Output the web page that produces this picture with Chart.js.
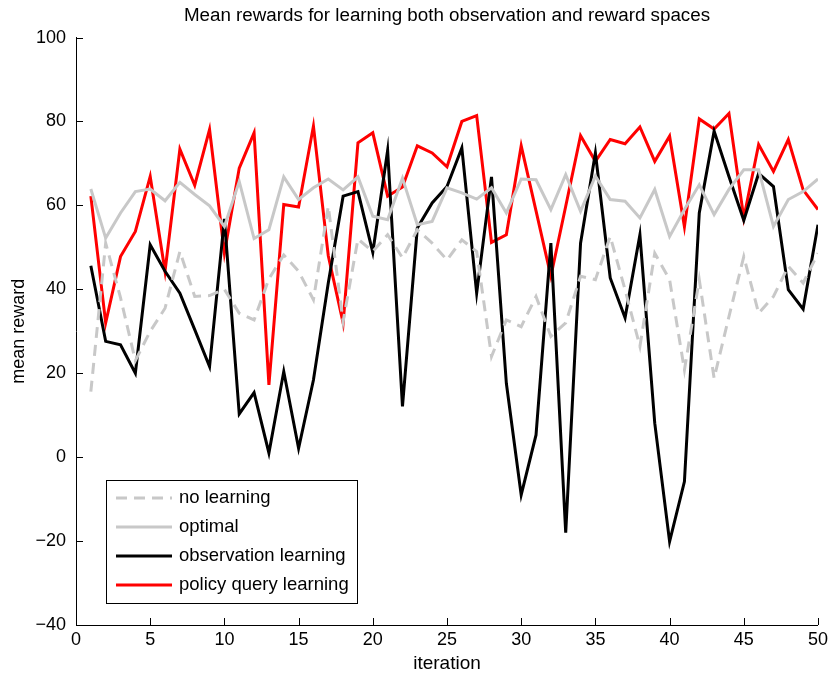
<!DOCTYPE html>
<html>
<head>
<meta charset="utf-8">
<script src="https://cdn.jsdelivr.net/npm/chart.js@4.4.0/dist/chart.umd.min.js"></script>
<style>
  html, body { margin: 0; padding: 0; background: #fff; }
  #wrap { width: 832px; height: 675px; }
</style>
</head>
<body>
<div id="wrap"><canvas id="myChart" width="832" height="675"></canvas></div>
<script>
// dados
var iteracoes = [];
for (var i = 1; i <= 50; i++) iteracoes.push(i);

var semAprendizado = [15.6, 51, 38, 23, 30, 35.5, 49, 38.3, 38.5, 40,
  34.3, 32.7, 42.5, 48.2, 44.3, 37.5, 59.8, 32.3, 52, 49,
  53, 47.5, 54.2, 51, 47, 51.8, 49, 24, 32.7, 31.1,
  38.3, 28.8, 32, 43.1, 42.3, 52.6, 39.9, 26.4, 48.6, 42.3,
  20.8, 42.3, 18.8, 33.5, 47.8, 34.3, 38.3, 45.5, 41.5, 48.6];

var otimo = [63.9, 52.2, 58.2, 63.3, 63.9, 61.1, 65.5, 62.6, 59.9, 55.0,
  65.7, 52.1, 54.2, 66.8, 61.4, 64.2, 66.3, 63.7, 66.8, 57.4,
  56.6, 66.5, 55.4, 56.2, 64.2, 63.0, 61.5, 64.2, 58.2, 66.3,
  66.1, 59.0, 67.3, 58.6, 67, 61.4, 61.0, 57.0, 63.8, 52.6,
  59.0, 64.9, 57.8, 63.8, 68.5, 68.5, 55.0, 61.4, 63.3, 66.3];

var observacao = [45.6, 27.6, 26.8, 20.0, 50.6, 44.3, 39.1, 30.4, 21.6, 56.8,
  10.3, 15.4, 1.0, 20.4, 2.1, 18.4, 41.5, 62.2, 63.3, 48.8,
  73.1, 12.1, 54.6, 60.6, 64.5, 73.7, 39.1, 66.8, 17.6, -9.0,
  5.3, 51.0, -18.0, 51.0, 72.5, 42.7, 33.2, 53.0, 8.1, -20.1,
  -5.8, 58.2, 77.7, 66.9, 56.4, 67.6, 64.5, 39.9, 35.3, 55.4];

var politica = [62.2, 32.0, 47.8, 53.8, 66.9, 44.3, 73.4, 64.8, 78.1, 48.6,
  68.9, 77.3, 17.2, 60.2, 59.6, 78.9, 48, 32.0, 74.9, 77.3,
  62.2, 64.4, 74.2, 72.5, 69.2, 80.0, 81.4, 51.2, 53.0, 74.2,
  58.7, 43.1, 59.8, 76.6, 70.5, 75.7, 74.7, 78.7, 70.5, 76.5,
  54.9, 80.6, 78.2, 81.9, 57.0, 74.5, 68.1, 75.7, 63.7, 59.0];

var rotulos = ['no learning', 'optimal', 'observation learning', 'policy query learning'];

function pontos(valores) {
  return valores.map(function (v, k) { return { x: iteracoes[k], y: v }; });
}

var fonte = '"Liberation Sans", Arial, Helvetica, sans-serif';
var cinza = '#c8c8c8';

// ticks para dentro, estilo MATLAB
var ticksInternos = {
  id: 'ticksInternos',
  afterDraw: function (chart) {
    var ctx = chart.ctx;
    var area = chart.chartArea;
    var sx = chart.scales.x, sy = chart.scales.y;
    ctx.save();
    ctx.strokeStyle = '#000';
    ctx.lineWidth = 1;
    ctx.beginPath();
    sy.ticks.forEach(function (t) {
      var y = Math.round(sy.getPixelForValue(t.value)) + 0.5;
      ctx.moveTo(area.left, y);
      ctx.lineTo(area.left + 7, y);
    });
    sx.ticks.forEach(function (t) {
      var x = Math.round(sx.getPixelForValue(t.value)) + 0.5;
      ctx.moveTo(x, area.bottom);
      ctx.lineTo(x, area.bottom - 7);
    });
    ctx.stroke();
    ctx.restore();
  }
};

// legenda dentro do gráfico
var legendaCaixa = {
  id: 'legendaCaixa',
  afterDraw: function (chart) {
    var ctx = chart.ctx;
    var x0 = 106, y0 = 480, w = 251, h = 123;
    ctx.save();
    ctx.fillStyle = '#fff';
    ctx.fillRect(x0, y0, w, h);
    ctx.strokeStyle = '#000';
    ctx.lineWidth = 1;
    ctx.strokeRect(x0 + 0.5, y0 + 0.5, w, h);
    chart.data.datasets.forEach(function (ds, k) {
      var y = y0 + 18 + k * 29;
      ctx.beginPath();
      ctx.strokeStyle = ds.borderColor;
      ctx.lineWidth = ds.borderWidth;
      ctx.setLineDash(ds.borderDash || []);
      ctx.moveTo(x0 + 10, y);
      ctx.lineTo(x0 + 66, y);
      ctx.stroke();
      ctx.setLineDash([]);
      ctx.fillStyle = '#000';
      ctx.font = '18.5px ' + fonte;
      ctx.textBaseline = 'middle';
      ctx.textAlign = 'left';
      ctx.fillText(ds.label, x0 + 73, y);
    });
    ctx.restore();
  }
};

var ctx = document.getElementById('myChart').getContext('2d');

var meuGrafico = new Chart(ctx, {
  type: 'line',
  data: {
    datasets: [
      { label: rotulos[0], data: pontos(semAprendizado), borderColor: cinza, borderWidth: 3, borderDash: [11, 7] },
      { label: rotulos[1], data: pontos(otimo), borderColor: cinza, borderWidth: 3 },
      { label: rotulos[2], data: pontos(observacao), borderColor: '#000000', borderWidth: 3 },
      { label: rotulos[3], data: pontos(politica), borderColor: '#ff0000', borderWidth: 3 }
    ]
  },
  options: {
    responsive: false,
    animation: false,
    events: [],
    elements: {
      point: { radius: 0 },
      line: { tension: 0, borderJoinStyle: 'miter', borderCapStyle: 'butt' }
    },
    layout: { padding: { left: 0, right: 9, top: 0, bottom: 0 } },
    plugins: {
      legend: { display: false },
      tooltip: { enabled: false },
      title: {
        display: true,
        fullSize: false,
        text: 'Mean rewards for learning both observation and reward spaces',
        color: '#000',
        font: { family: fonte, size: 18.8, weight: 'normal' },
        padding: { top: 5, bottom: 10 }
      }
    },
    scales: {
      x: {
        type: 'linear',
        min: 0,
        max: 50,
        ticks: { stepSize: 5, color: '#000', font: { family: fonte, size: 18 }, padding: 4, maxRotation: 0 },
        grid: { display: false, drawTicks: false },
        border: { display: true, color: '#000', width: 1 },
        title: { display: true, text: 'iteration', color: '#000', font: { family: fonte, size: 19 }, padding: { top: 0, bottom: 0 } },
        afterFit: function (scale) { scale.height = 50; }
      },
      y: {
        min: -40,
        max: 100,
        ticks: {
          stepSize: 20, color: '#000', font: { family: fonte, size: 18 }, padding: 10,
          callback: function (v) { return String(v).replace('-', '\u2212'); }
        },
        grid: { display: false, drawTicks: false },
        border: { display: true, color: '#000', width: 1 },
        title: { display: true, text: 'mean reward', color: '#000', font: { family: fonte, size: 18 }, padding: { top: 8, bottom: 0 } },
        afterFit: function (scale) { scale.width = 76; }
      }
    }
  },
  plugins: [ticksInternos, legendaCaixa]
});
</script>
</body>
</html>
